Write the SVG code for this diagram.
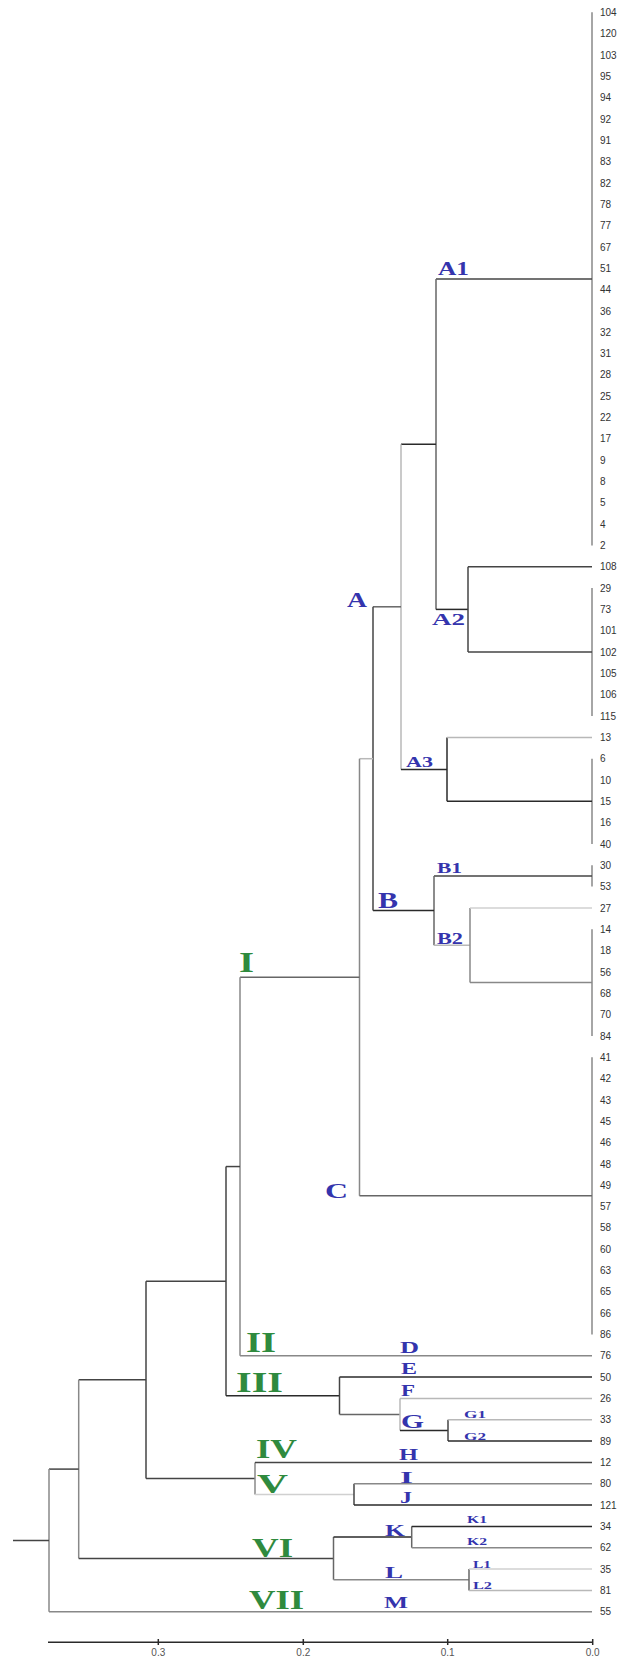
<svg xmlns="http://www.w3.org/2000/svg" width="629" height="1660" viewBox="0 0 629 1660">
<style>
line,path{fill:none;stroke-width:1.5}
.k{stroke:#2a2a2a}.d{stroke:#444}.m{stroke:#666}.g{stroke:#888}.l{stroke:#b8b8b8}.v{stroke:#d0d0d0}
.lf{font-family:"Liberation Sans",Arial,sans-serif;font-size:10px;fill:#333}
.b{font-family:"Liberation Serif","Times New Roman",serif;font-weight:bold;fill:#3434ad}
.gr{font-family:"Liberation Serif","Times New Roman",serif;font-weight:bold;fill:#2f8a3e}
.ax{font-family:"Liberation Sans",Arial,sans-serif;font-size:10px;fill:#555}
</style>
<rect width="629" height="1660" fill="#fff"/>
<g id="connectors">
<!-- leaf cluster verticals -->
<line class="g" x1="592" y1="12.3" x2="592" y2="545.4"/>
<line class="g" x1="592" y1="588.1" x2="592" y2="716"/>
<line class="g" x1="592" y1="758.7" x2="592" y2="844"/>
<line class="g" x1="592" y1="865.3" x2="592" y2="886.6"/>
<line class="g" x1="592" y1="929.3" x2="592" y2="1035.9"/>
<line class="g" x1="592" y1="1057.2" x2="592" y2="1334.5"/>
<!-- A1 / A2 -->
<line class="d" x1="436" y1="278.9" x2="592" y2="278.9"/>
<line class="m" x1="436" y1="278.9" x2="436" y2="609.4"/>
<line class="k" x1="436" y1="609.4" x2="468" y2="609.4"/>
<line class="d" x1="468" y1="566.8" x2="468" y2="652.05"/>
<line class="d" x1="468" y1="566.8" x2="592" y2="566.8"/>
<line class="d" x1="468" y1="652.05" x2="592" y2="652.05"/>
<line class="k" x1="401" y1="444.15" x2="436" y2="444.15"/>
<!-- A3 -->
<line class="l" x1="401" y1="444.15" x2="401" y2="769.4"/>
<line class="k" x1="401" y1="769.4" x2="447" y2="769.4"/>
<line class="k" x1="447" y1="737.4" x2="447" y2="801.35"/>
<line class="l" x1="447" y1="737.4" x2="592" y2="737.4"/>
<line class="k" x1="447" y1="801.35" x2="592" y2="801.35"/>
<!-- A -->
<line class="m" x1="373" y1="606.8" x2="401" y2="606.8"/>
<!-- B -->
<line class="d" x1="434" y1="875.95" x2="592" y2="875.95"/>
<line class="m" x1="434" y1="875.95" x2="434" y2="945.3"/>
<line class="l" x1="434" y1="945.3" x2="470" y2="945.3"/>
<line class="g" x1="470" y1="908" x2="470" y2="982.6"/>
<line class="v" x1="470" y1="908" x2="592" y2="908"/>
<line class="g" x1="470" y1="982.6" x2="592" y2="982.6"/>
<line class="k" x1="373" y1="910.6" x2="434" y2="910.6"/>
<!-- A+B, C -->
<line class="d" x1="373" y1="606.8" x2="373" y2="910.6"/>
<line class="l" x1="359.5" y1="758.7" x2="373" y2="758.7"/>
<line class="g" x1="359.5" y1="758.7" x2="359.5" y2="1195.85"/>
<line class="m" x1="359.5" y1="1195.85" x2="592" y2="1195.85"/>
<!-- I, II -->
<line class="m" x1="240" y1="977.3" x2="359.5" y2="977.3"/>
<line class="g" x1="240" y1="977.3" x2="240" y2="1355.8"/>
<line class="g" x1="240" y1="1355.8" x2="592" y2="1355.8"/>
<line class="d" x1="226" y1="1166.55" x2="240" y2="1166.55"/>
<line class="d" x1="226" y1="1166.55" x2="226" y2="1395.75"/>
<!-- III -->
<line class="k" x1="226" y1="1395.75" x2="339.5" y2="1395.75"/>
<line class="d" x1="339.5" y1="1377.1" x2="339.5" y2="1414.4"/>
<line class="k" x1="339.5" y1="1377.1" x2="592" y2="1377.1"/>
<line class="m" x1="339.5" y1="1414.4" x2="400" y2="1414.4"/>
<line class="l" x1="400" y1="1398.4" x2="400" y2="1430.45"/>
<line class="l" x1="400" y1="1398.4" x2="592" y2="1398.4"/>
<line class="k" x1="400" y1="1430.45" x2="448" y2="1430.45"/>
<line class="d" x1="448" y1="1419.8" x2="448" y2="1441.1"/>
<line class="l" x1="448" y1="1419.8" x2="592" y2="1419.8"/>
<line class="k" x1="448" y1="1441.1" x2="592" y2="1441.1"/>
<!-- I..III join -->
<line class="d" x1="146" y1="1281.15" x2="226" y2="1281.15"/>
<line class="d" x1="146" y1="1281.15" x2="146" y2="1478.4"/>
<!-- IV, V -->
<line class="d" x1="146" y1="1478.4" x2="255" y2="1478.4"/>
<line class="g" x1="255" y1="1462.4" x2="255" y2="1494.4"/>
<line class="d" x1="255" y1="1462.4" x2="592" y2="1462.4"/>
<line class="v" x1="255" y1="1494.4" x2="354" y2="1494.4"/>
<line class="d" x1="354" y1="1483.7" x2="354" y2="1505.1"/>
<line class="g" x1="354" y1="1483.7" x2="592" y2="1483.7"/>
<line class="k" x1="354" y1="1505.1" x2="592" y2="1505.1"/>
<!-- upper joins -->
<line class="d" x1="78.7" y1="1379.8" x2="146" y2="1379.8"/>
<line class="g" x1="78.7" y1="1379.8" x2="78.7" y2="1558.4"/>
<!-- VI -->
<line class="d" x1="78.7" y1="1558.4" x2="333.5" y2="1558.4"/>
<line class="m" x1="333.5" y1="1537.05" x2="333.5" y2="1579.7"/>
<line class="k" x1="333.5" y1="1537.05" x2="411.7" y2="1537.05"/>
<line class="m" x1="411.7" y1="1526.4" x2="411.7" y2="1547.7"/>
<line class="k" x1="411.7" y1="1526.4" x2="592" y2="1526.4"/>
<line class="g" x1="411.7" y1="1547.7" x2="592" y2="1547.7"/>
<line class="g" x1="333.5" y1="1579.7" x2="469" y2="1579.7"/>
<line class="m" x1="469" y1="1569" x2="469" y2="1590.4"/>
<line class="v" x1="469" y1="1569" x2="592" y2="1569"/>
<line class="l" x1="469" y1="1590.4" x2="592" y2="1590.4"/>
<!-- root -->
<line class="d" x1="49" y1="1469.1" x2="78.7" y2="1469.1"/>
<line class="g" x1="49" y1="1469.1" x2="49" y2="1611.7"/>
<line class="g" x1="49" y1="1611.7" x2="592" y2="1611.7"/>
<line class="d" x1="13" y1="1540.4" x2="49" y2="1540.4"/>
</g>
<g id="axis">
<line class="k" x1="48" y1="1642.3" x2="593" y2="1642.3"/>
<line class="k" x1="158.3" y1="1639" x2="158.3" y2="1645"/>
<line class="k" x1="303.3" y1="1639" x2="303.3" y2="1645"/>
<line class="k" x1="447.7" y1="1639" x2="447.7" y2="1645"/>
<line class="k" x1="592.7" y1="1639" x2="592.7" y2="1645"/>
<text class="ax" x="158.3" y="1656" text-anchor="middle">0.3</text>
<text class="ax" x="303.3" y="1656" text-anchor="middle">0.2</text>
<text class="ax" x="447.7" y="1656" text-anchor="middle">0.1</text>
<text class="ax" x="592.7" y="1656" text-anchor="middle">0.0</text>
</g>
<g id="leaves">
<g id="leaf-104"><text class="lf" x="600" y="15.9">104</text></g>
<g id="leaf-120"><text class="lf" x="600" y="37.2">120</text></g>
<g id="leaf-103"><text class="lf" x="600" y="58.6">103</text></g>
<g id="leaf-95"><text class="lf" x="600" y="79.9">95</text></g>
<g id="leaf-94"><text class="lf" x="600" y="101.2">94</text></g>
<g id="leaf-92"><text class="lf" x="600" y="122.5">92</text></g>
<g id="leaf-91"><text class="lf" x="600" y="143.9">91</text></g>
<g id="leaf-83"><text class="lf" x="600" y="165.2">83</text></g>
<g id="leaf-82"><text class="lf" x="600" y="186.5">82</text></g>
<g id="leaf-78"><text class="lf" x="600" y="207.8">78</text></g>
<g id="leaf-77"><text class="lf" x="600" y="229.2">77</text></g>
<g id="leaf-67"><text class="lf" x="600" y="250.5">67</text></g>
<g id="leaf-51"><text class="lf" x="600" y="271.8">51</text></g>
<g id="leaf-44"><text class="lf" x="600" y="293.1">44</text></g>
<g id="leaf-36"><text class="lf" x="600" y="314.5">36</text></g>
<g id="leaf-32"><text class="lf" x="600" y="335.8">32</text></g>
<g id="leaf-31"><text class="lf" x="600" y="357.1">31</text></g>
<g id="leaf-28"><text class="lf" x="600" y="378.4">28</text></g>
<g id="leaf-25"><text class="lf" x="600" y="399.8">25</text></g>
<g id="leaf-22"><text class="lf" x="600" y="421.1">22</text></g>
<g id="leaf-17"><text class="lf" x="600" y="442.4">17</text></g>
<g id="leaf-9"><text class="lf" x="600" y="463.7">9</text></g>
<g id="leaf-8"><text class="lf" x="600" y="485.1">8</text></g>
<g id="leaf-5"><text class="lf" x="600" y="506.4">5</text></g>
<g id="leaf-4"><text class="lf" x="600" y="527.7">4</text></g>
<g id="leaf-2"><text class="lf" x="600" y="549">2</text></g>
<g id="leaf-108"><text class="lf" x="600" y="570.4">108</text></g>
<g id="leaf-29"><text class="lf" x="600" y="591.7">29</text></g>
<g id="leaf-73"><text class="lf" x="600" y="613">73</text></g>
<g id="leaf-101"><text class="lf" x="600" y="634.3">101</text></g>
<g id="leaf-102"><text class="lf" x="600" y="655.7">102</text></g>
<g id="leaf-105"><text class="lf" x="600" y="677">105</text></g>
<g id="leaf-106"><text class="lf" x="600" y="698.3">106</text></g>
<g id="leaf-115"><text class="lf" x="600" y="719.6">115</text></g>
<g id="leaf-13"><text class="lf" x="600" y="741">13</text></g>
<g id="leaf-6"><text class="lf" x="600" y="762.3">6</text></g>
<g id="leaf-10"><text class="lf" x="600" y="783.6">10</text></g>
<g id="leaf-15"><text class="lf" x="600" y="804.9">15</text></g>
<g id="leaf-16"><text class="lf" x="600" y="826.3">16</text></g>
<g id="leaf-40"><text class="lf" x="600" y="847.6">40</text></g>
<g id="leaf-30"><text class="lf" x="600" y="868.9">30</text></g>
<g id="leaf-53"><text class="lf" x="600" y="890.2">53</text></g>
<g id="leaf-27"><text class="lf" x="600" y="911.6">27</text></g>
<g id="leaf-14"><text class="lf" x="600" y="932.9">14</text></g>
<g id="leaf-18"><text class="lf" x="600" y="954.2">18</text></g>
<g id="leaf-56"><text class="lf" x="600" y="975.5">56</text></g>
<g id="leaf-68"><text class="lf" x="600" y="996.9">68</text></g>
<g id="leaf-70"><text class="lf" x="600" y="1018.2">70</text></g>
<g id="leaf-84"><text class="lf" x="600" y="1039.5">84</text></g>
<g id="leaf-41"><text class="lf" x="600" y="1060.8">41</text></g>
<g id="leaf-42"><text class="lf" x="600" y="1082.2">42</text></g>
<g id="leaf-43"><text class="lf" x="600" y="1103.5">43</text></g>
<g id="leaf-45"><text class="lf" x="600" y="1124.8">45</text></g>
<g id="leaf-46"><text class="lf" x="600" y="1146.1">46</text></g>
<g id="leaf-48"><text class="lf" x="600" y="1167.5">48</text></g>
<g id="leaf-49"><text class="lf" x="600" y="1188.8">49</text></g>
<g id="leaf-57"><text class="lf" x="600" y="1210.1">57</text></g>
<g id="leaf-58"><text class="lf" x="600" y="1231.4">58</text></g>
<g id="leaf-60"><text class="lf" x="600" y="1252.8">60</text></g>
<g id="leaf-63"><text class="lf" x="600" y="1274.1">63</text></g>
<g id="leaf-65"><text class="lf" x="600" y="1295.4">65</text></g>
<g id="leaf-66"><text class="lf" x="600" y="1316.7">66</text></g>
<g id="leaf-86"><text class="lf" x="600" y="1338.1">86</text></g>
<g id="leaf-76"><text class="lf" x="600" y="1359.4">76</text></g>
<g id="leaf-50"><text class="lf" x="600" y="1380.7">50</text></g>
<g id="leaf-26"><text class="lf" x="600" y="1402">26</text></g>
<g id="leaf-33"><text class="lf" x="600" y="1423.4">33</text></g>
<g id="leaf-89"><text class="lf" x="600" y="1444.7">89</text></g>
<g id="leaf-12"><text class="lf" x="600" y="1466">12</text></g>
<g id="leaf-80"><text class="lf" x="600" y="1487.3">80</text></g>
<g id="leaf-121"><text class="lf" x="600" y="1508.7">121</text></g>
<g id="leaf-34"><text class="lf" x="600" y="1530">34</text></g>
<g id="leaf-62"><text class="lf" x="600" y="1551.3">62</text></g>
<g id="leaf-35"><text class="lf" x="600" y="1572.6">35</text></g>
<g id="leaf-81"><text class="lf" x="600" y="1594">81</text></g>
<g id="leaf-55"><text class="lf" x="600" y="1615.3">55</text></g>
</g>
<g id="clusters">
<g id="node-A1"><text class="b" x="438" y="275" font-size="19" textLength="31" lengthAdjust="spacingAndGlyphs">A1</text></g>
<g id="node-A"><text class="b" x="347" y="607" font-size="22" textLength="20" lengthAdjust="spacingAndGlyphs">A</text></g>
<g id="node-A2"><text class="b" x="432" y="625" font-size="17" textLength="33" lengthAdjust="spacingAndGlyphs">A2</text></g>
<g id="node-A3"><text class="b" x="406" y="766.5" font-size="15" textLength="27" lengthAdjust="spacingAndGlyphs">A3</text></g>
<g id="node-B1"><text class="b" x="437" y="873" font-size="15" textLength="25" lengthAdjust="spacingAndGlyphs">B1</text></g>
<g id="node-B"><text class="b" x="378" y="908" font-size="23" textLength="20" lengthAdjust="spacingAndGlyphs">B</text></g>
<g id="node-B2"><text class="b" x="437" y="944" font-size="16" textLength="26" lengthAdjust="spacingAndGlyphs">B2</text></g>
<g id="node-C"><text class="b" x="325" y="1198" font-size="22" textLength="23" lengthAdjust="spacingAndGlyphs">C</text></g>
<g id="node-D"><text class="b" x="400" y="1353" font-size="17" textLength="19" lengthAdjust="spacingAndGlyphs">D</text></g>
<g id="node-E"><text class="b" x="401" y="1374" font-size="16" textLength="16" lengthAdjust="spacingAndGlyphs">E</text></g>
<g id="node-F"><text class="b" x="401" y="1396" font-size="16" textLength="14" lengthAdjust="spacingAndGlyphs">F</text></g>
<g id="node-G"><text class="b" x="401" y="1428" font-size="19" textLength="23" lengthAdjust="spacingAndGlyphs">G</text></g>
<g id="node-G1"><text class="b" x="464" y="1418" font-size="10" textLength="22" lengthAdjust="spacingAndGlyphs">G1</text></g>
<g id="node-G2"><text class="b" x="464" y="1440" font-size="10" textLength="22" lengthAdjust="spacingAndGlyphs">G2</text></g>
<g id="node-H"><text class="b" x="399" y="1460" font-size="17" textLength="19" lengthAdjust="spacingAndGlyphs">H</text></g>
<g id="node-I"><text class="b" x="400" y="1482.5" font-size="17" textLength="13" lengthAdjust="spacingAndGlyphs">I</text></g>
<g id="node-J"><text class="b" x="400" y="1503" font-size="17" textLength="12" lengthAdjust="spacingAndGlyphs">J</text></g>
<g id="node-K"><text class="b" x="385" y="1536" font-size="17" textLength="20" lengthAdjust="spacingAndGlyphs">K</text></g>
<g id="node-K1"><text class="b" x="467" y="1523" font-size="10" textLength="20" lengthAdjust="spacingAndGlyphs">K1</text></g>
<g id="node-K2"><text class="b" x="467" y="1545" font-size="10" textLength="20" lengthAdjust="spacingAndGlyphs">K2</text></g>
<g id="node-L"><text class="b" x="385" y="1578" font-size="17" textLength="18" lengthAdjust="spacingAndGlyphs">L</text></g>
<g id="node-L1"><text class="b" x="473" y="1567.5" font-size="10" textLength="18" lengthAdjust="spacingAndGlyphs">L1</text></g>
<g id="node-L2"><text class="b" x="473" y="1589" font-size="10" textLength="19" lengthAdjust="spacingAndGlyphs">L2</text></g>
<g id="node-M"><text class="b" x="384" y="1608" font-size="17" textLength="24" lengthAdjust="spacingAndGlyphs">M</text></g>
</g>
<g id="groups">
<g id="group-I"><text class="gr" x="239" y="972" font-size="29" textLength="15" lengthAdjust="spacingAndGlyphs">I</text></g>
<g id="group-II"><text class="gr" x="246" y="1352" font-size="29" textLength="30" lengthAdjust="spacingAndGlyphs">II</text></g>
<g id="group-III"><text class="gr" x="236" y="1392" font-size="29" textLength="47" lengthAdjust="spacingAndGlyphs">III</text></g>
<g id="group-IV"><text class="gr" x="256" y="1458" font-size="28" textLength="41" lengthAdjust="spacingAndGlyphs">IV</text></g>
<g id="group-V"><text class="gr" x="257" y="1493" font-size="28" textLength="31" lengthAdjust="spacingAndGlyphs">V</text></g>
<g id="group-VI"><text class="gr" x="252" y="1557" font-size="28" textLength="41" lengthAdjust="spacingAndGlyphs">VI</text></g>
<g id="group-VII"><text class="gr" x="249" y="1609" font-size="28" textLength="55" lengthAdjust="spacingAndGlyphs">VII</text></g>
</g>
</svg>
